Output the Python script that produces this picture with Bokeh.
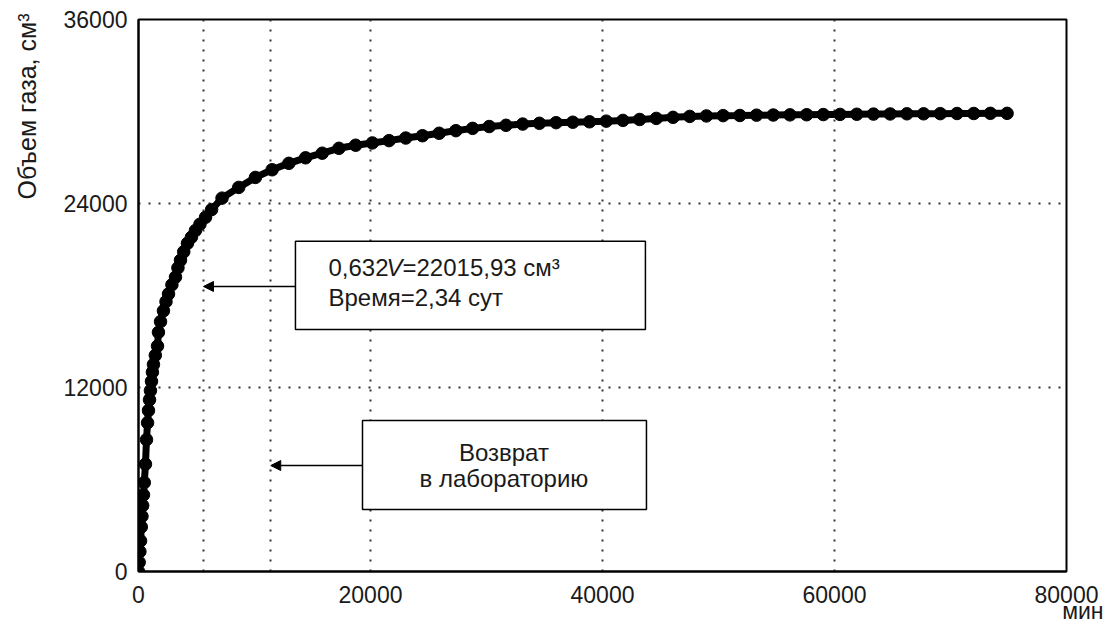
import math
from bokeh.plotting import figure
from bokeh.models import (Range1d, FixedTicker, Label, Arrow, NormalHead, BoxAnnotation, Title)
from bokeh.embed import file_html
from bokeh.resources import INLINE

# ---- data (minutes, cm3) ----
time_min = [0, 60, 120, 180, 240, 300, 360, 430, 500, 600, 690, 780, 860, 950, 1030,
            1120, 1200, 1290, 1450, 1640, 1720, 1900, 2150, 2370, 2590, 2880, 3190,
            3400, 3620, 3900, 4220, 4560, 4910, 5300, 5780, 6300,
            7200, 8640, 10080, 11520, 12960, 14400, 15840, 17280, 18720, 20160,
            21600, 23040, 24480, 25920, 27360, 28800, 30240, 31680, 33120, 34560,
            36000, 37440, 38880, 40320, 41760, 43200, 44640, 46080, 47520, 48960,
            50400, 51840, 53280, 54720, 56160, 57600, 59040, 60480, 61920, 63360,
            64800, 66240, 67680, 69120, 70560, 72000, 73440, 74880]
gas_volume = [0, 600, 1300, 2000, 2900, 3600, 4300, 5000, 5800, 7000, 8600, 9700, 10500, 11200, 11800,
              12400, 13000, 13500, 14100, 14700, 15600, 16300, 17000, 17600, 18100, 18700, 19200,
              19800, 20300, 20850, 21400, 21800, 22240, 22650, 23100, 23600,
              24350, 25050, 25700, 26200, 26620, 26980, 27280, 27600, 27800, 27950,
              28100, 28270, 28420, 28580, 28750, 28900, 29020, 29100, 29180, 29230,
              29270, 29300, 29330, 29370, 29420, 29480, 29550, 29620, 29680, 29710,
              29730, 29740, 29760, 29770, 29780, 29790, 29800, 29810, 29820, 29830,
              29840, 29850, 29850, 29860, 29870, 29870, 29880, 29880]

x_ticks = [0, 20000, 40000, 60000, 80000]
y_ticks = [0, 12000, 24000, 36000]
x_grid = [5600, 11400, 20000, 40000, 60000]
y_grid = [12000, 24000]

FONT = "Liberation Sans"
TXT = "#1a1a1a"

p = figure(width=1103, height=626, output_backend="svg", toolbar_location=None,
           x_range=Range1d(0, 80000), y_range=Range1d(0, 36000),
           min_border_left=138, min_border_right=37, min_border_top=19, min_border_bottom=55)
p.background_fill_color = "white"
p.border_fill_color = "white"
p.outline_line_color = "black"
p.outline_line_width = 2

for ax in (p.xaxis[0], p.yaxis[0]):
    ax.major_tick_line_color = None
    ax.minor_tick_line_color = None
    ax.axis_line_color = "black"
    ax.axis_line_width = 2
    ax.major_label_text_font = FONT
    ax.major_label_text_font_size = "23px"
    ax.major_label_text_color = TXT

p.xaxis.ticker = FixedTicker(ticks=x_ticks)
p.yaxis.ticker = FixedTicker(ticks=y_ticks)
p.xaxis.major_label_standoff = 8
p.yaxis.major_label_standoff = 5
# blank spacer label to push the vertical title outward
p.yaxis.axis_label = " "
p.yaxis.axis_label_text_font_size = "4px"
p.yaxis.axis_label_standoff = 0

p.xgrid.ticker = FixedTicker(ticks=x_grid)
p.ygrid.ticker = FixedTicker(ticks=y_grid)
for g in (p.xgrid[0], p.ygrid[0]):
    g.grid_line_color = "#333333"
    g.grid_line_width = 2
    g.grid_line_dash = "2 8"

# curve
p.line(time_min, gas_volume, line_color="black", line_width=7)
p.scatter(time_min, gas_volume, size=12.5, fill_color="black", line_color="black")

# annotation boxes
p.add_layout(BoxAnnotation(left=13530, right=43700, bottom=15790, top=21530,
                           fill_color="white", fill_alpha=1, line_color="black",
                           line_alpha=1, line_width=1.5, level="underlay"))
p.add_layout(BoxAnnotation(left=19310, right=43790, bottom=4040, top=9850,
                           fill_color="white", fill_alpha=1, line_color="black",
                           line_alpha=1, line_width=1.5, level="underlay"))

p.add_layout(Arrow(end=NormalHead(size=10, fill_color="black", line_color="black"),
                   x_start=13530, y_start=18590, x_end=5600, y_end=18590,
                   line_color="black", line_width=1.5))
p.add_layout(Arrow(end=NormalHead(size=10, fill_color="black", line_color="black"),
                   x_start=19310, y_start=6910, x_end=11400, y_end=6910,
                   line_color="black", line_width=1.5))

def lab(x, y, text, size="24px", align="left", style="normal", xo=0, yo=0, angle=0.0, base="middle"):
    p.add_layout(Label(x=x, y=y, text=text, text_font=FONT, text_font_size=size,
                       text_color=TXT, text_align=align, text_baseline=base,
                       text_font_style=style, x_offset=xo, y_offset=yo, angle=angle))

# box 1 text
lab(16380, 19830, "0,632")
lab(16380, 19830, "V", style="italic", xo=58)
lab(16380, 19830, "=22015,93 см³", xo=74)
lab(16380, 17870, "Время=2,34 сут")

# box 2 text
lab(31500, 7780, "Возврат", align="center")
lab(31500, 6080, "в лабораторию", align="center")

# axis titles
p.add_layout(Title(text="Объем газа, см³", align="right", offset=-6, standoff=20,
                   vertical_align="top",
                   text_font=FONT, text_font_size="25px", text_font_style="normal",
                   text_color=TXT), "left")
p.add_layout(Title(text="мин", align="right", offset=-37, standoff=-20,
                   vertical_align="bottom",
                   text_font=FONT, text_font_size="23px", text_font_style="normal",
                   text_color=TXT), "below")

open("out.html", "w").write(file_html(p, INLINE))
